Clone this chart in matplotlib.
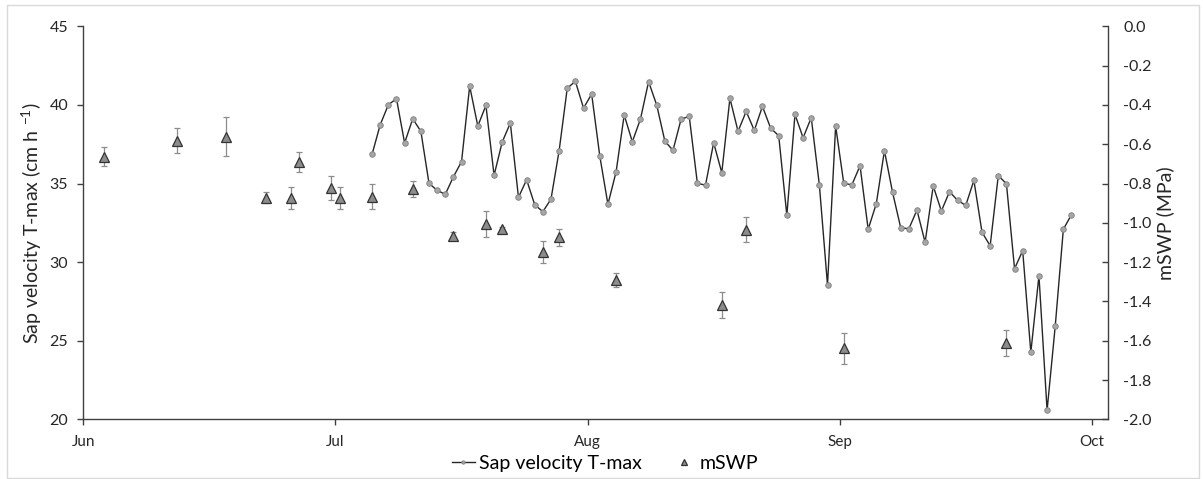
# plot.py
import numpy as np
import pandas as pd
import matplotlib
matplotlib.use('Agg')
import matplotlib.pyplot as plt
import matplotlib.dates as mdates
import matplotlib.patches as patches

plt.rcParams['font.family'] = ['Lato', 'DejaVu Sans']
plt.rcParams['axes.unicode_minus'] = False

# daily sap velocity T-max (cm h-1), 6 Jul - 30 Sep
sap_start = '2016-07-06'
sap_vel = [36.86, 38.74, 40.01, 40.40, 37.58, 39.12, 38.32, 35.01, 34.57, 34.31,
           35.43, 36.39, 41.20, 38.66, 39.97, 35.52, 37.64, 38.85, 34.12, 35.24,
           33.65, 33.21, 34.01, 37.09, 41.07, 41.50, 39.80, 40.69, 36.75, 33.68,
           35.73, 39.36, 37.66, 39.10, 41.48, 39.99, 37.70, 37.11, 39.10, 39.27,
           35.01, 34.90, 37.60, 35.69, 40.42, 38.32, 39.59, 38.38, 39.91, 38.53,
           38.04, 32.98, 39.40, 37.91, 39.19, 34.90, 28.54, 38.66, 35.01, 34.92,
           36.13, 32.09, 33.72, 37.09, 34.44, 32.19, 32.12, 33.31, 31.26, 34.84,
           33.25, 34.48, 33.93, 33.61, 35.20, 31.90, 31.04, 35.50, 34.99, 29.58,
           30.73, 24.26, 29.14, 20.57, 25.92, 32.09, 33.02]

# midday stem water potential (MPa)
swp_dates = ['2016-06-03', '2016-06-12', '2016-06-18', '2016-06-23', '2016-06-26',
             '2016-06-27', '2016-07-01', '2016-07-02', '2016-07-06', '2016-07-11',
             '2016-07-16', '2016-07-20', '2016-07-22', '2016-07-27', '2016-07-29',
             '2016-08-05', '2016-08-18', '2016-08-21', '2016-09-02', '2016-09-22']
swp = [-0.664, -0.581, -0.562, -0.873, -0.873, -0.691, -0.822, -0.873, -0.868, -0.827,
       -1.066, -1.004, -1.029, -1.147, -1.074, -1.291, -1.417, -1.034, -1.639, -1.612]
swp_err = [0.048, 0.064, 0.100, 0.028, 0.056, 0.050, 0.060, 0.056, 0.064, 0.039,
           0.018, 0.066, 0.010, 0.057, 0.043, 0.035, 0.065, 0.065, 0.080, 0.067]

month_labels = ['Jun', 'Jul', 'Aug', 'Sep', 'Oct']

sap_x = pd.date_range(sap_start, periods=len(sap_vel), freq='D')
swp_x = pd.to_datetime(swp_dates)

fig = plt.figure(figsize=(12.03, 4.79), dpi=100)
ax = fig.add_axes([0.0693, 0.1246, 0.9211 - 0.0693, 0.945 - 0.1246])
ax2 = ax.twinx()

# chart area border
fig.patches.append(patches.Rectangle((7 / 1203, 1 / 479), 1192 / 1203, 473 / 479,
                                     transform=fig.transFigure, fill=False,
                                     edgecolor='#d9d9d9', linewidth=1))

line_sap, = ax.plot(sap_x, sap_vel, color='#262626', linewidth=1.0,
                    marker='o', markersize=4, markerfacecolor='#a6a6a6',
                    markeredgecolor='#7f7f7f', markeredgewidth=0.6, zorder=3)

ax2.errorbar(swp_x, swp, yerr=swp_err, fmt='none', ecolor='#8c8c8c',
             elinewidth=0.9, capsize=2.2, capthick=0.9, zorder=2)
tri_swp, = ax2.plot(swp_x, swp, linestyle='none', marker='^', markersize=7.5,
                    markerfacecolor='#8c8c8c', markeredgecolor='#333333',
                    markeredgewidth=0.9, zorder=3)

# x axis: ticks every 31 days from the axis start
x0 = mdates.date2num(pd.Timestamp('2016-06-01')) - 0.5
ax.set_xlim(x0, x0 + 126)
ax.set_xticks([x0 + 31 * i for i in range(len(month_labels))])
ax.set_xticklabels(month_labels)

ax.set_ylim(20, 45)
ax.set_yticks(np.arange(20, 46, 5))
ax2.set_ylim(-2.0, 0.0)
ax2.set_yticks(np.arange(-2.0, 0.01, 0.2))
ax2.set_yticklabels(['{:.1f}'.format(v) if abs(v) > 1e-9 else '0.0'
                     for v in np.arange(-2.0, 0.01, 0.2)])

axis_col = '#404040'
for a in (ax, ax2):
    a.spines['top'].set_visible(False)
    for s in a.spines.values():
        s.set_color(axis_col)
        s.set_linewidth(1.0)
ax.spines['right'].set_visible(False)
ax2.spines['left'].set_visible(False)
ax2.spines['bottom'].set_visible(False)

ax.tick_params(axis='y', direction='out', length=4, width=1, color=axis_col,
               labelsize=11.5, labelcolor='#262626', pad=7)
ax.tick_params(axis='x', direction='out', length=4, width=1, color=axis_col,
               labelsize=11, labelcolor='#262626', pad=7)
ax2.tick_params(axis='y', direction='in', length=4, width=1, color=axis_col,
                labelsize=11.5, labelcolor='#262626', pad=11)

ax.set_ylabel('Sap velocity T-max (cm h $^{\\mathregular{-1}}$)', fontsize=14,
              color='#262626', labelpad=4)
ax2.set_ylabel('mSWP (MPa)', fontsize=14, color='#262626', rotation=90, labelpad=3)

fig.legend([line_sap, tri_swp], ['Sap velocity T-max', 'mSWP'],
           loc='center', bbox_to_anchor=(0.503, 0.033), ncol=2, frameon=False,
           fontsize=14, handlelength=1.2, handletextpad=0.2, columnspacing=1.6,
           markerscale=0.6)

fig.savefig('out.png', dpi=100)
